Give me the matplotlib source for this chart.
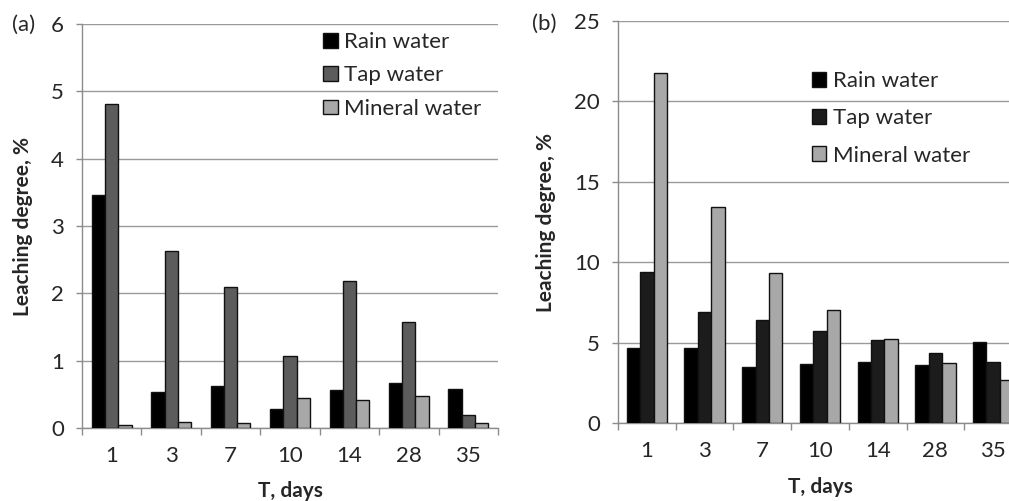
import numpy as np
import matplotlib
matplotlib.use('Agg')
import matplotlib.pyplot as plt
from matplotlib.ticker import FixedLocator, NullFormatter

plt.rcParams['font.family'] = ['Lato', 'DejaVu Sans']

days = ['1', '3', '7', '10', '14', '28', '35']
series = ['Rain water', 'Tap water', 'Mineral water']

# (a) leaching degree, %
rain_a = [3.46, 0.54, 0.62, 0.28, 0.56, 0.67, 0.58]
tap_a = [4.81, 2.63, 2.09, 1.07, 2.18, 1.57, 0.20]
mineral_a = [0.05, 0.09, 0.07, 0.45, 0.41, 0.48, 0.07]

# (b) leaching degree, %
rain_b = [4.70, 4.70, 3.48, 3.68, 3.83, 3.62, 5.07]
tap_b = [9.38, 6.93, 6.42, 5.75, 5.17, 4.39, 3.79]
mineral_b = [21.78, 13.45, 9.35, 7.04, 5.24, 3.73, 2.69]

colors_a = ['#000000', '#5c5c5c', '#a8a8a8']
colors_b = ['#000000', '#1c1c1c', '#a8a8a8']

text_color = '#262626'
grid_color = '#9a9a9a'

fig = plt.figure(figsize=(10.09, 5.01), dpi=100)
ax_a = fig.add_axes([82 / 1009, 73 / 501, 416 / 1009, 404 / 501])
ax_b = fig.add_axes([618 / 1009, 77.7 / 501, 404 / 1009, 402.6 / 501])


def draw_panel(ax, values, colors, width, ymax, ystep):
    x = np.arange(len(days))
    for i, (vals, c, name) in enumerate(zip(values, colors, series)):
        ax.bar(x + (i - 1) * width, vals, width, color=c, edgecolor='#111111',
               linewidth=1.0, label=name, zorder=3)
    ax.set_xlim(-0.5, len(days) - 0.5)
    ax.set_ylim(0, ymax)
    ax.set_yticks(np.arange(0, ymax + ystep / 2, ystep))
    ax.yaxis.grid(True, color=grid_color, linewidth=1.0, zorder=0)
    ax.set_axisbelow(True)
    for s in ['top', 'right']:
        ax.spines[s].set_visible(False)
    for s in ['left', 'bottom']:
        ax.spines[s].set_color('#8c8c8c')
        ax.spines[s].set_linewidth(1.0)
    ax.set_xticks(x)
    ax.set_xticklabels(days)
    ax.xaxis.set_minor_locator(FixedLocator(np.arange(-0.5, len(days), 1.0)))
    ax.xaxis.set_minor_formatter(NullFormatter())
    ax.tick_params(axis='x', which='major', length=0, pad=13, labelsize=16,
                   labelcolor=text_color)
    ax.tick_params(axis='x', which='minor', length=5, width=1.0, color='#8c8c8c')
    ax.tick_params(axis='y', length=4, width=1.0, color='#8c8c8c', pad=9,
                   labelsize=16, labelcolor=text_color)
    ax.set_xlabel('T, days', fontsize=15, fontweight='bold', color=text_color,
                  labelpad=11)
    ax.set_ylabel('Leaching degree, %', fontsize=15, fontweight='bold',
                  color=text_color, labelpad=13)


draw_panel(ax_a, [rain_a, tap_a, mineral_a], colors_a, 0.222, 6, 1)
draw_panel(ax_b, [rain_b, tap_b, mineral_b], colors_b, 0.232, 25, 5)

ax_a.legend(loc='upper left', bbox_to_anchor=(0.58, 0.98), frameon=False,
            fontsize=16, handlelength=0.65, handleheight=0.65, handletextpad=0.3,
            labelspacing=0.6, borderaxespad=0, borderpad=0,
            labelcolor=text_color)
ax_b.legend(loc='upper left', bbox_to_anchor=(0.48, 0.875), frameon=False,
            fontsize=16, handlelength=0.65, handleheight=0.65, handletextpad=0.3,
            labelspacing=0.78, borderaxespad=0, borderpad=0,
            labelcolor=text_color)

fig.text(12 / 1009, 1 - 25 / 501, '(a)', fontsize=16, va='center', ha='left',
         color=text_color)
fig.text(532 / 1009, 1 - 24 / 501, '(b)', fontsize=16, va='center', ha='left',
         color=text_color)

fig.savefig('out.png', dpi=100)
